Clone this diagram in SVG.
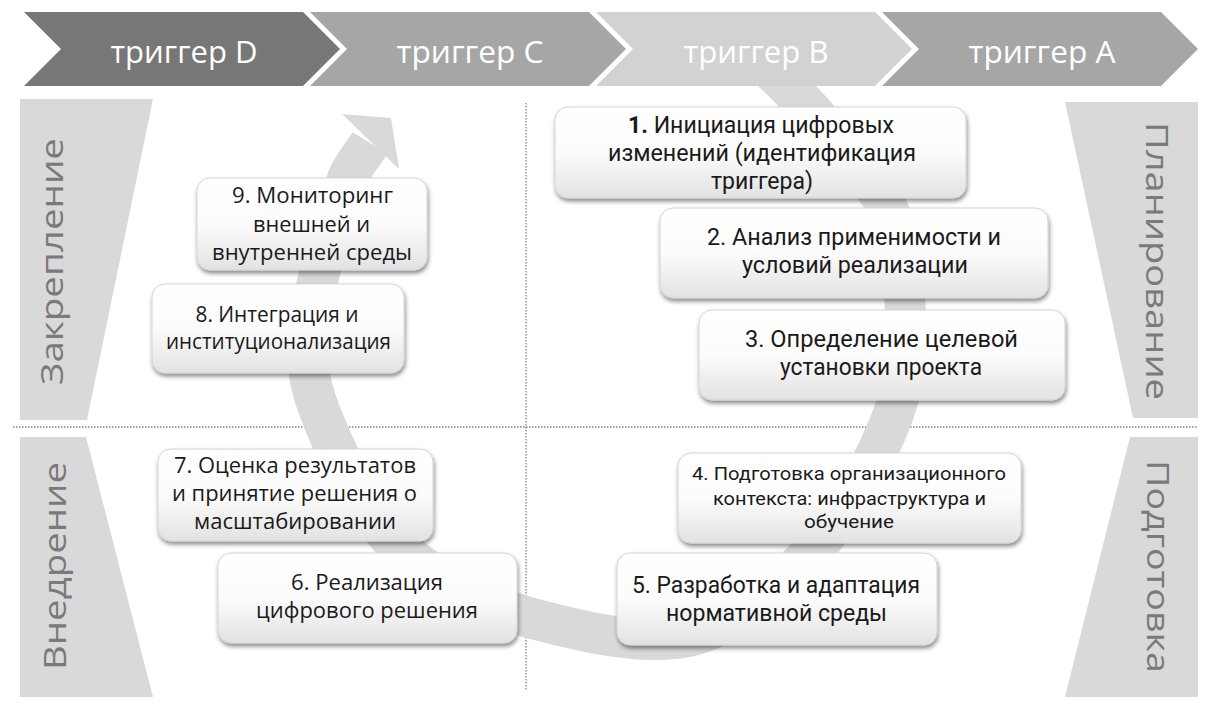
<svg xmlns="http://www.w3.org/2000/svg" width="1226" height="719" viewBox="0 0 1226 719">
<defs>
<linearGradient id="boxg" x1="0" y1="0" x2="0" y2="1">
<stop offset="0" stop-color="#ffffff"/>
<stop offset="0.5" stop-color="#fcfcfc"/>
<stop offset="1" stop-color="#e2e2e2"/>
</linearGradient>
<filter id="sh" x="-10%" y="-15%" width="120%" height="140%">
<feDropShadow dx="1" dy="3" stdDeviation="2.2" flood-color="#000" flood-opacity="0.45"/>
</filter>
</defs>
<style>
.chev text{font-family:"Open Sans","DejaVu Sans",sans-serif;font-size:31px;fill:#ffffff;text-anchor:middle}
.panel{fill:#d9d9d9}
.ptxt{font-family:"Open Sans","DejaVu Sans",sans-serif;font-size:31px;fill:#7a7a7a;text-anchor:middle}
.box rect{fill:url(#boxg);stroke:#d4d4d4;stroke-width:1;filter:url(#sh)}
.tA{font-family:Roboto,"Liberation Sans",sans-serif;font-size:23px;fill:#1a1a1a;text-anchor:middle}
.tS{font-family:Roboto,"Liberation Sans",sans-serif;font-size:19px;fill:#1a1a1a;text-anchor:middle}
.tB{font-family:"Open Sans","DejaVu Sans",sans-serif;font-size:21px;fill:#1a1a1a;text-anchor:middle}
.dash{stroke:#808080;stroke-width:1.3;stroke-dasharray:1.5 1.5;fill:none}
</style>
<rect width="1226" height="719" fill="#ffffff"/>

<g id="panels">
<polygon class="panel" points="20,99 153,99 87,420 20,420"/>
<polygon class="panel" points="20,437 86,437 153,697 20,697"/>
<polygon class="panel" points="1065,102 1198,102 1198,418 1133,418"/>
<polygon class="panel" points="1130,437 1198,437 1198,697 1065,697"/>
<text class="ptxt" transform="translate(63,261.5) rotate(-90)" textLength="247" lengthAdjust="spacingAndGlyphs">Закрепление</text>
<text class="ptxt" transform="translate(66,566) rotate(-90)" textLength="208" lengthAdjust="spacingAndGlyphs">Внедрение</text>
<text class="ptxt" transform="translate(1146,261) rotate(90)" textLength="278" lengthAdjust="spacingAndGlyphs">Планирование</text>
<text class="ptxt" transform="translate(1147,566.5) rotate(90)" textLength="213" lengthAdjust="spacingAndGlyphs">Подготовка</text>
</g>

<g id="dividers">
<line class="dash" x1="13" y1="427" x2="1198" y2="427"/>
<line class="dash" x1="526" y1="103" x2="526" y2="690"/>
</g>

<g id="connectors">
<path d="M765,65 C790,86 861.7,163 885,203 C904.2,242.2 903.7,269.7 905,305 C906.3,340.3 908,374.5 893,415 C878,455.5 848.8,510.5 815,548 C781.2,585.5 738,624.5 690,636 C642,647 575,630 527,617 C478.7,601.7 433.5,579.7 400,548 C366.5,516.3 341.2,463.3 326,427 C310.8,390.7 305.5,371.2 309,330 C312.5,288.8 336.8,211.2 347,180 C351,168 362,156 370,143" fill="none" stroke="#d9d9d9" stroke-width="41"/>
<polygon points="342,114 391,118 399,169" fill="#d9d9d9"/>
</g>

<g class="chev">
<g id="trigger-D">
<polygon points="24,12 303,12 340,49 303,86 24,86 61,49" fill="#777777"/>
<text x="184" y="63" textLength="147" lengthAdjust="spacingAndGlyphs">триггер D</text>
</g>
<g id="trigger-C">
<polygon points="310,12 589,12 626,49 589,86 310,86 347,49" fill="#a6a6a6"/>
<text x="470" y="63" textLength="147" lengthAdjust="spacingAndGlyphs">триггер C</text>
</g>
<g id="trigger-B">
<polygon points="596,12 875,12 912,49 875,86 596,86 633,49" fill="#d2d2d2"/>
<text x="756" y="63" textLength="145" lengthAdjust="spacingAndGlyphs">триггер B</text>
</g>
<g id="trigger-A">
<polygon points="882,12 1161,12 1198,49 1161,86 882,86 919,49" fill="#a6a6a6"/>
<text x="1042" y="63" textLength="147" lengthAdjust="spacingAndGlyphs">триггер A</text>
</g>
</g>

<g id="step-1" class="box">
<rect x="555" y="107" width="411" height="91" rx="13"/>
<text class="tA" x="761" y="133" textLength="266" lengthAdjust="spacingAndGlyphs"><tspan font-weight="bold">1.</tspan> Инициация цифровых</text>
<text class="tA" x="762" y="161" textLength="308" lengthAdjust="spacingAndGlyphs">изменений (идентификация</text>
<text class="tA" x="762" y="189" textLength="102" lengthAdjust="spacingAndGlyphs">триггера)</text>
</g>
<g id="step-2" class="box">
<rect x="660" y="208" width="388" height="90" rx="13"/>
<text class="tA" x="854" y="245" textLength="294" lengthAdjust="spacingAndGlyphs">2. Анализ применимости и</text>
<text class="tA" x="855" y="273" textLength="226" lengthAdjust="spacingAndGlyphs">условий реализации</text>
</g>
<g id="step-3" class="box">
<rect x="699" y="310" width="366" height="90" rx="13"/>
<text class="tA" x="881.5" y="347" textLength="273" lengthAdjust="spacingAndGlyphs">3. Определение целевой</text>
<text class="tA" x="881" y="375" textLength="202" lengthAdjust="spacingAndGlyphs">установки проекта</text>
</g>
<g id="step-4" class="box">
<rect x="678" y="453" width="343" height="90" rx="13"/>
<text class="tS" x="849" y="480" textLength="314" lengthAdjust="spacingAndGlyphs">4. Подготовка организационного</text>
<text class="tS" x="849.5" y="505" textLength="273" lengthAdjust="spacingAndGlyphs">контекста: инфраструктура и</text>
<text class="tS" x="849" y="528" textLength="90" lengthAdjust="spacingAndGlyphs">обучение</text>
</g>
<g id="step-5" class="box">
<rect x="617" y="553" width="320" height="92" rx="13"/>
<text class="tA" x="776" y="593" textLength="288" lengthAdjust="spacingAndGlyphs">5. Разработка и адаптация</text>
<text class="tA" x="776.5" y="621" textLength="221" lengthAdjust="spacingAndGlyphs">нормативной среды</text>
</g>
<g id="step-6" class="box">
<rect x="218" y="553" width="299" height="90" rx="13"/>
<text class="tB" x="367" y="590" textLength="152" lengthAdjust="spacingAndGlyphs">6. Реализация</text>
<text class="tB" x="367" y="618" textLength="222" lengthAdjust="spacingAndGlyphs">цифрового решения</text>
</g>
<g id="step-7" class="box">
<rect x="158" y="449" width="275" height="92" rx="13"/>
<text class="tB" x="295" y="473" textLength="242" lengthAdjust="spacingAndGlyphs">7. Оценка результатов</text>
<text class="tB" x="294.5" y="501" textLength="245" lengthAdjust="spacingAndGlyphs">и принятие решения о</text>
<text class="tB" x="295" y="529" textLength="202" lengthAdjust="spacingAndGlyphs">масштабировании</text>
</g>
<g id="step-8" class="box">
<rect x="152" y="284" width="252" height="89" rx="13"/>
<text class="tB" x="277" y="322" textLength="163" lengthAdjust="spacingAndGlyphs">8. Интеграция и</text>
<text class="tB" x="278.5" y="349" textLength="225" lengthAdjust="spacingAndGlyphs">институционализация</text>
</g>
<g id="step-9" class="box">
<rect x="197" y="178" width="230" height="92" rx="13"/>
<text class="tB" x="312.5" y="203" textLength="161" lengthAdjust="spacingAndGlyphs">9. Мониторинг</text>
<text class="tB" x="311.5" y="232" textLength="117" lengthAdjust="spacingAndGlyphs">внешней и</text>
<text class="tB" x="312" y="260" textLength="200" lengthAdjust="spacingAndGlyphs">внутренней среды</text>
</g>
</svg>
